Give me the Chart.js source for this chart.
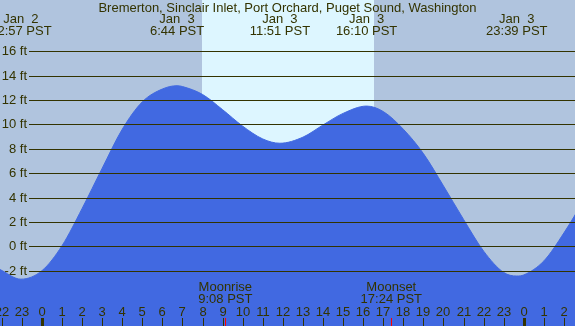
<!DOCTYPE html>
<html>
<head>
<meta charset="utf-8">
<script src="https://cdn.jsdelivr.net/npm/chart.js@4/dist/chart.umd.min.js"></script>
<style>
html,body{margin:0;padding:0;background:#b0c4de;overflow:hidden;}
canvas{display:block;}
</style>
</head>
<body>
<canvas id="c" width="575" height="326"></canvas>
<script>
// Hours relative to Jan 3 00:00 PST, water level in feet
const tideHours = [-2.1,-1.05,0,1,2,3,4,5,6,6.73,7,8,9,10,11,11.85,13,14,15,16.17,17,18,19,20,21,22,23,23.65,24,25,26,27];
const tideFeet  = [-1.9,-2.7,-2.0,0.05,3.1,6.4,9.6,11.85,12.9,13.17,13.1,12.45,11.2,9.85,8.8,8.45,8.95,9.95,10.9,11.5,11.05,9.6,7.6,4.95,2.2,-0.4,-2.15,-2.44,-2.35,-1.2,1.1,3.8];

const titleText = "Bremerton, Sinclair Inlet, Port Orchard, Puget Sound, Washington";
const extremeHours = [-1.05, 6.73, 11.85, 16.17, 23.65];
const extremeDates = ["Jan  2", "Jan  3", "Jan  3", "Jan  3", "Jan  3"];
const extremeTimes = ["22:57 PST", "6:44 PST", "11:51 PST", "16:10 PST", "23:39 PST"];

const yTickValues = [-2, 0, 2, 4, 6, 8, 10, 12, 14, 16];
const yTickLabels = ["-2 ft", "0 ft", "2 ft", "4 ft", "6 ft", "8 ft", "10 ft", "12 ft", "14 ft", "16 ft"];

const hourTicks = [-2,-1,0,1,2,3,4,5,6,7,8,9,10,11,12,13,14,15,16,17,18,19,20,21,22,23,24,25,26];
const hourLabels = ["22","23","0","1","2","3","4","5","6","7","8","9","10","11","12","13","14","15","16","17","18","19","20","21","22","23","0","1","2"];

const sunriseHour = 7.97;
const sunsetHour = 16.53;

const moonEvents = ["Moonrise", "Moonset"];
const moonTimes = ["9:08 PST", "17:24 PST"];
const moonHours = [9.133, 17.4];

const NIGHT = '#b0c4de', DAY = '#ddf6ff', WATER = '#4169e1', INK = '#333300';
const FONT = '13px "Liberation Sans", Arial, sans-serif';

const bgPlugin = {
  id: 'bg',
  beforeDraw(chart) {
    const {ctx, chartArea: a, scales: {x}} = chart;
    ctx.save();
    ctx.fillStyle = NIGHT;
    ctx.fillRect(0, 0, chart.width, chart.height);
    ctx.fillStyle = DAY;
    const x1 = Math.round(x.getPixelForValue(sunriseHour));
    const x2 = Math.round(x.getPixelForValue(sunsetHour));
    ctx.fillRect(x1, a.top, x2 - x1, a.bottom - a.top);
    ctx.restore();
  }
};

const overlayPlugin = {
  id: 'overlay',
  afterDatasetsDraw(chart) {
    const {ctx, scales: {x, y}} = chart;
    ctx.save();
    ctx.font = FONT;
    ctx.fillStyle = INK;
    ctx.strokeStyle = INK;
    ctx.lineWidth = 1;
    ctx.textAlign = 'right';
    ctx.textBaseline = 'middle';
    yTickValues.forEach((v, i) => {
      const py = Math.round(y.getPixelForValue(v)) + 0.5;
      ctx.beginPath();
      ctx.moveTo(29, py);
      ctx.lineTo(chart.width, py);
      ctx.stroke();
      ctx.fillText(yTickLabels[i], 27, py);
    });
    ctx.textAlign = 'center';
    ctx.fillText(titleText, chart.width / 2, 8);
    extremeHours.forEach((h, i) => {
      const px = x.getPixelForValue(h);
      ctx.fillText(extremeDates[i], px, 19.5);
      ctx.fillText(extremeTimes[i], px, 31.5);
    });
    hourTicks.forEach((h, i) => {
      const px = Math.round(x.getPixelForValue(h));
      ctx.fillStyle = INK;
      ctx.fillText(hourLabels[i], px, 312);
      const mid = (hourLabels[i] === "0");
      ctx.fillRect(mid ? px - 1 : px, 318, mid ? 3 : 1, 8);
    });
    moonHours.forEach((h, i) => {
      const px = x.getPixelForValue(h);
      ctx.fillStyle = INK;
      ctx.fillText(moonEvents[i], px, 287.5);
      ctx.fillText(moonTimes[i], px, 299.5);
      ctx.fillStyle = '#ff0000';
      ctx.fillRect(Math.round(px), 318, 1, 8);
    });
    ctx.restore();
  }
};

new Chart(document.getElementById('c'), {
  type: 'line',
  data: {
    datasets: [{
      data: tideHours.map((h, i) => ({x: h, y: tideFeet[i]})),
      fill: 'start',
      backgroundColor: WATER,
      borderColor: WATER,
      borderWidth: 1,
      pointRadius: 0,
      cubicInterpolationMode: 'monotone'
    }]
  },
  options: {
    responsive: false,
    animation: false,
    events: [],
    layout: {padding: 0},
    plugins: {legend: {display: false}, tooltip: {enabled: false}},
    scales: {
      x: {type: 'linear', min: -2.09, max: 26.55, display: false},
      y: {type: 'linear', min: -6.54, max: 20.2, display: false}
    }
  },
  plugins: [bgPlugin, overlayPlugin]
});
</script>
</body>
</html>
